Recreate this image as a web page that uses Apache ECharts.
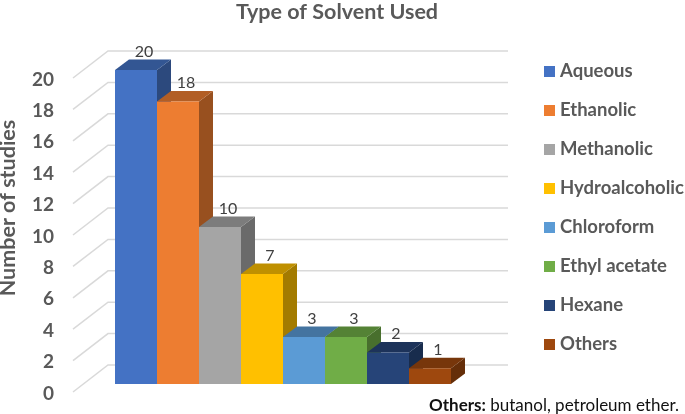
<!DOCTYPE html>
<html>
<head>
<meta charset="utf-8">
<style>
  html, body { margin: 0; padding: 0; background: #fff; }
  #main { width: 685px; height: 414px; }
</style>
<script src="https://cdn.jsdelivr.net/npm/echarts@6/dist/echarts.min.js"></script>
</head>
<body>
<div id="main"></div>
<script>
var solvents = ['Aqueous', 'Ethanolic', 'Methanolic', 'Hydroalcoholic', 'Chloroform', 'Ethyl acetate', 'Hexane', 'Others'];
var studies = [20, 18, 10, 7, 3, 3, 2, 1];
var yTicks = [0, 2, 4, 6, 8, 10, 12, 14, 16, 18, 20];
var barColors = ['#4472c4', '#ed7d31', '#a5a5a5', '#ffc000', '#5b9bd5', '#70ad47', '#264478', '#9e480e'];

var font = 'Lato';
// fake 3D offsets, in px
var depthX = 14, depthY = 10.5;

function darken(color, amount) {
  return echarts.color.lerp(amount, [color, '#000000']);
}

// floor/wall lines behind the bars
function renderWall(params, api) {
  var y = api.coord([0, api.value(0)])[1];
  var style = { stroke: '#d9d9d9', lineWidth: 1.5, fill: 'none' };
  return {
    type: 'polyline',
    shape: { points: [[73, y + 8], [108, y - 19], [508, y - 19]] },
    style: style,
    silent: true
  };
}

function renderBar(params, api) {
  var top = api.coord([api.value(0), api.value(1)]);
  var base = api.coord([api.value(0), 0]);
  var w = api.size([1, 0])[0];
  var x0 = top[0] - w / 2, x1 = top[0] + w / 2;
  var color = barColors[params.seriesIndex - 1];
  return {
    type: 'group',
    children: [
      {
        type: 'polygon',
        shape: { points: [[x1, top[1]], [x1 + depthX, top[1] - depthY], [x1 + depthX, base[1] - depthY], [x1, base[1]]] },
        style: { fill: darken(color, 0.36) }
      },
      {
        type: 'polygon',
        shape: { points: [[x0, top[1]], [x0 + depthX, top[1] - depthY], [x1 + depthX, top[1] - depthY], [x1, top[1]]] },
        style: { fill: darken(color, 0.25) }
      },
      {
        type: 'rect',
        shape: { x: x0, y: top[1], width: w, height: base[1] - top[1] },
        style: { fill: color }
      },
      {
        type: 'text',
        x: top[0] + 8,
        y: top[1] - depthY - 8,
        style: {
          text: String(api.value(1)),
          fill: '#404040',
          font: '16px ' + font,
          align: 'center',
          verticalAlign: 'middle'
        }
      }
    ]
  };
}

var series = [{
  name: 'wall',
  type: 'custom',
  renderItem: renderWall,
  data: yTicks.map(function (t) { return [t]; }),
  encode: { y: 0 },
  silent: true
}];
solvents.forEach(function (name, i) {
  series.push({
    name: name,
    type: 'custom',
    renderItem: renderBar,
    itemStyle: { color: barColors[i] },
    data: [[i, studies[i]]],
    encode: { x: 0, y: 1 }
  });
});

var chart = echarts.init(document.getElementById('main'), null, { renderer: 'canvas' });
chart.setOption({
  animation: false,
  backgroundColor: '#fff',
  title: [
    {
      text: 'Type of Solvent Used',
      left: 332,
      top: -4,
      textAlign: 'center',
      textStyle: { fontFamily: font, fontSize: 21.5, fontWeight: 'bold', color: '#595959' }
    },
    {
      text: '{b|Others:} butanol, petroleum ether.',
      left: 429,
      top: 397,
      padding: 0,
      textStyle: {
        fontFamily: font,
        fontSize: 17,
        fontWeight: 'normal',
        color: '#111',
        rich: { b: { fontFamily: font, fontSize: 17, fontWeight: 'bold', color: '#111' } }
      }
    }
  ],
  legend: {
    data: solvents,
    orient: 'vertical',
    left: 544,
    top: 62,
    padding: 0,
    itemWidth: 11,
    itemHeight: 11,
    itemGap: 20,
    icon: 'rect',
    textStyle: { fontFamily: font, fontSize: 18.5, fontWeight: 'bold', color: '#595959' }
  },
  grid: { left: 115, top: 70, width: 336, height: 314, outerBoundsMode: 'none' },
  xAxis: {
    type: 'category',
    data: solvents,
    axisLine: { show: false },
    axisTick: { show: false },
    axisLabel: { show: false }
  },
  yAxis: {
    type: 'value',
    min: 0,
    max: 20,
    interval: 2,
    name: 'Number of studies',
    nameLocation: 'middle',
    nameGap: 96,
    nameTextStyle: { fontFamily: font, fontSize: 21.5, fontWeight: 'bold', color: '#595959', padding: [0, 0, 0, 38] },
    axisLine: { show: false },
    axisTick: { show: false },
    splitLine: { show: false },
    axisLabel: {
      margin: 61,
      fontFamily: font,
      fontSize: 19,
      fontWeight: 'bold',
      color: '#595959',
      verticalAlign: 'top'
    }
  },
  series: series
});
</script>
</body>
</html>
